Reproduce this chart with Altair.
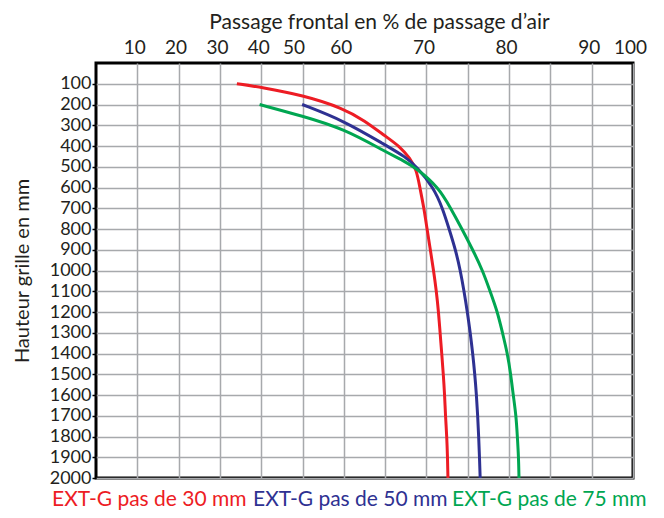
import altair as alt
import pandas as pd

FONT = "Lato"
TXT = "#231f20"

series = ["EXT-G pas de 30 mm", "EXT-G pas de 50 mm", "EXT-G pas de 75 mm"]
colors = ["#ed1c24", "#2e3192", "#00a651"]

red_pct = [34.1, 40.0, 50.0, 60.0, 62.5, 65.0, 66.8, 68.0, 68.8, 69.2, 69.7, 70.07, 70.47, 70.86,
           71.2, 71.46, 71.65, 71.85, 72.04, 72.2, 72.3, 72.46, 72.55, 72.6]
red_h = [100, 117, 155, 219, 278, 352, 403, 459, 515, 600, 700, 800, 900, 1000,
         1100, 1200, 1300, 1400, 1500, 1600, 1700, 1800, 1900, 2000]

blue_pct = [49.9, 60.0, 65.0, 67.5, 68.8, 70.86, 71.95, 72.74, 73.52, 74.1, 74.55, 74.95,
            75.3, 75.6, 75.85, 76.05, 76.2, 76.32, 76.42, 76.5]
blue_h = [200, 278, 395, 453, 500, 600, 700, 800, 900, 1000, 1100, 1200,
          1300, 1400, 1500, 1600, 1700, 1800, 1900, 2000]

green_pct = [39.6, 50.0, 60.0, 65.0, 67.5, 68.8, 71.48, 72.93, 74.3, 75.6, 76.8, 77.7,
             78.6, 79.2, 79.8, 80.2, 80.5, 80.85, 81.0, 81.15, 81.2]
green_h = [200, 256, 317, 427, 477, 508, 600, 700, 800, 900, 1000, 1100,
           1200, 1300, 1400, 1500, 1600, 1700, 1800, 1900, 2000]

x_domain = [0, 10, 20, 30, 40, 50, 60, 70, 80, 90, 100]
x_units = [0, 1, 2, 3, 4, 5, 6, 8, 10, 12, 13]
x_tick_values = [10, 20, 30, 40, 50, 60, 65, 70, 75, 80, 85, 90, 100]
y_tick_values = [100, 200, 300, 400, 500, 600, 700, 800, 900, 1000,
                 1100, 1200, 1300, 1400, 1500, 1600, 1700, 1800, 1900, 2000]

W, H = 537, 415
unit = W / 13.0

rows = []
for name, xs, ys in [(series[0], red_pct, red_h), (series[1], blue_pct, blue_h), (series[2], green_pct, green_h)]:
    for i, (a, b) in enumerate(zip(xs, ys)):
        rows.append({"series": name, "pct": a, "h": b, "order": i})
df = pd.DataFrame(rows)

x_scale = alt.Scale(domain=x_domain, range=[u * unit for u in x_units], nice=False, zero=False)
y_scale = alt.Scale(domain=[0, 2000], reverse=True, nice=False, zero=False)

lines = alt.Chart(df).mark_line(strokeWidth=3, interpolate="basis").encode(
    x=alt.X("pct:Q", scale=x_scale,
            axis=alt.Axis(orient="top", values=x_tick_values,
                          labelExpr="datum.value % 10 == 0 ? datum.label : ''",
                          labelOverlap=False, labelFlush=False,
                          ticks=False, labelPadding=6, labelFontSize=19,
                          labelOffset={"condition": {"test": "datum.value == 50", "value": -9}, "value": -3},
                          title="Passage frontal en % de passage d’air",
                          titleFontSize=21, titleX=283, titleY=-41, titleAlign="center",
                          titleBaseline="middle")),
    y=alt.Y("h:Q", scale=y_scale,
            axis=alt.Axis(values=y_tick_values, format="d", tickSize=4, tickColor="black", tickWidth=1.5,
                          labelOverlap=False, labelFlush=False,
                          labelPadding=1, labelFontSize=18, labelBaseline="middle",
                          title="Hauteur grille en mm", titleFontSize=20, titleAngle=-90,
                          titleX=-74, titleY=H / 2, titleAlign="center", titleBaseline="middle")),
    color=alt.Color("series:N", scale=alt.Scale(domain=series, range=colors), legend=None),
    order="order:Q",
)

legend_x = [-44, 157, 356]
layers = [lines]
for name, col, lx in zip(series, colors, legend_x):
    layers.append(
        alt.Chart(pd.DataFrame({"label": [name]})).mark_text(
            align="left", baseline="alphabetic", font=FONT, fontSize=21, color=col
        ).encode(x=alt.value(lx), y=alt.value(H + 28), text="label:N")
    )

chart = alt.layer(*layers).properties(
    width=W, height=H,
    autosize=alt.AutoSizeParams(type="none"),
    padding={"left": 88, "top": 55, "right": 23, "bottom": 32},
).configure_axis(
    labelFont=FONT, titleFont=FONT, labelColor=TXT, titleColor=TXT,
    titleFontWeight="normal", gridColor="#a7a9ac", gridWidth=1.5, gridOpacity=1,
    domain=False,
).configure_view(stroke="black", strokeWidth=3)

chart.save("out.html", embed_options={"renderer": "svg", "actions": False})
